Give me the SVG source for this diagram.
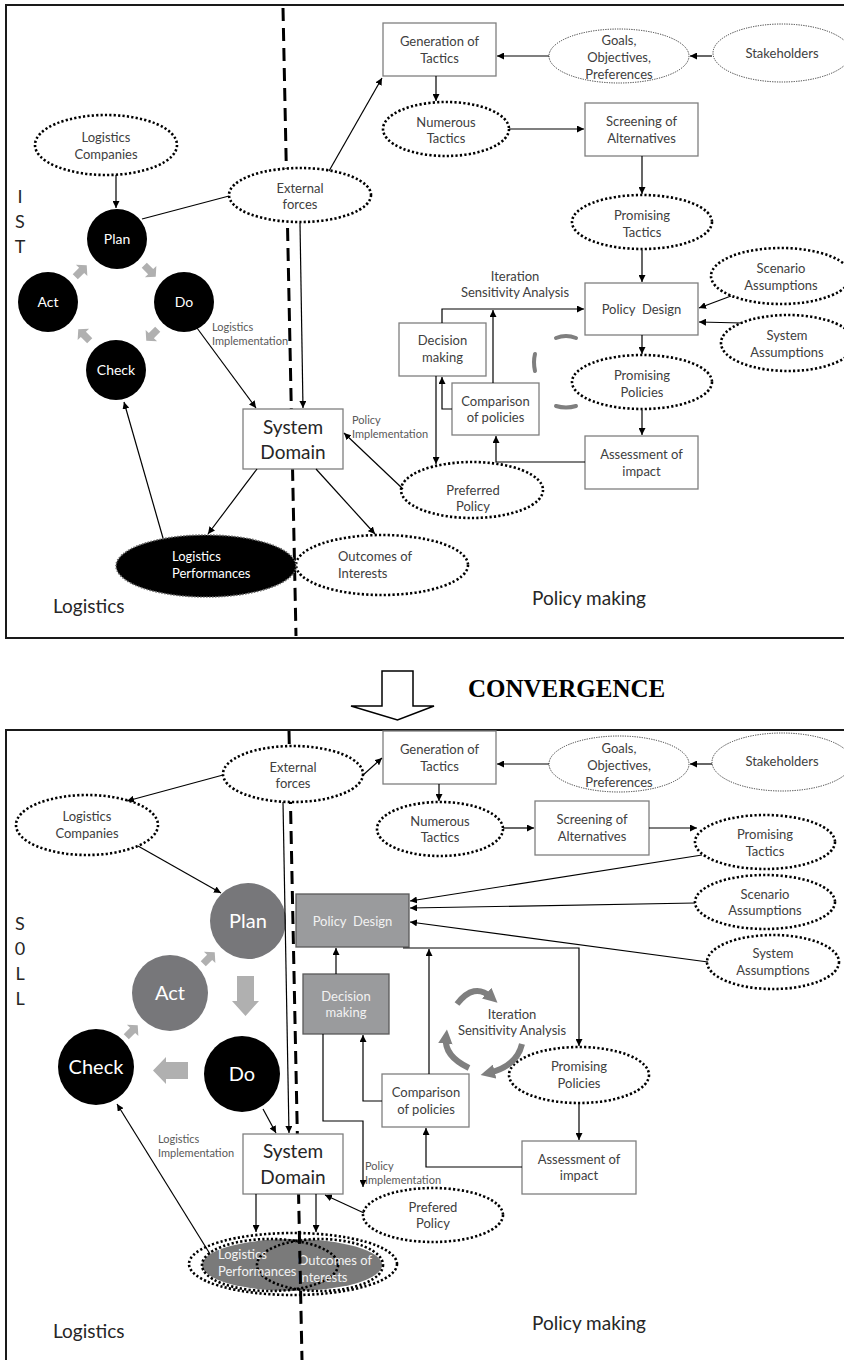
<svg xmlns="http://www.w3.org/2000/svg" width="844" height="1360" viewBox="0 0 844 1360">
<defs>
<style>
.t{font-family:Lato,"Liberation Sans",sans-serif;font-size:13px;fill:#404040;text-anchor:middle}
.s{font-family:Lato,"Liberation Sans",sans-serif;font-size:11px;fill:#595959}
.big{font-family:Lato,"Liberation Sans",sans-serif;font-size:19px;fill:#262626}
.w{fill:#fff}
.lt{fill:#f2f2f2}
.box{fill:#fff;stroke:#7f7f7f;stroke-width:1.3}
.gbox{fill:#9a9b9d;stroke:#595959;stroke-width:1.3}
.dot{fill:#fff;stroke:#000;stroke-width:2.6;stroke-dasharray:2.2 2.2}
.dotn{fill:none;stroke:#000;stroke-width:2.6;stroke-dasharray:2.2 2.2}
.tdot{fill:#fff;stroke:#333;stroke-width:1;stroke-dasharray:1.2 1.2}
.c{fill:none;stroke:#000;stroke-width:1.2;marker-end:url(#ah)}
.cn{fill:none;stroke:#000;stroke-width:1.2}
.frame{fill:none;stroke:#1a1a1a;stroke-width:2}
.div{fill:none;stroke:#000;stroke-width:3;stroke-dasharray:13 7}
.blk{fill:#b0b0b0}
.it{fill:none;stroke:#7f7f7f;stroke-width:6;marker-end:url(#gh)}
.itp{fill:none;stroke:#7f7f7f;stroke-width:4;stroke-linecap:round}
</style>
<marker id="ah" viewBox="0 0 10 10" refX="10" refY="5" markerWidth="7" markerHeight="7" markerUnits="userSpaceOnUse" orient="auto">
<path d="M0,0 L10,5 L0,10 z" fill="#000"/>
</marker>
<marker id="gh" viewBox="0 0 10 10" refX="4" refY="5" markerWidth="2.4" markerHeight="2.4" orient="auto">
<path d="M0,0 L10,5 L0,10 z" fill="#7f7f7f"/>
</marker>
<path id="sa" d="M-9,-4 L1,-4 L1,-9 L9,0 L1,9 L1,4 L-9,4 z"/>
</defs>
<rect width="844" height="1360" fill="#fff"/>

<!-- frames -->
<g id="frames">
<path class="frame" d="M850,5 L6,5 L6,638 L850,638"/>
<path class="frame" d="M850,730 L6,730 L6,1365"/>
</g>

<!-- bottom combined outcome ellipses (drawn under divider) -->
<g id="b-outcomes-combined">
<ellipse class="dotn" cx="293" cy="1264" rx="104" ry="31"/>
<ellipse cx="292" cy="1265" rx="90" ry="26" fill="#7a7a7a"/>
<ellipse class="dotn" cx="270" cy="1265" rx="68" ry="26"/>
<ellipse class="dotn" cx="320" cy="1265" rx="63" ry="26"/>
<text class="t lt" style="text-anchor:start" x="218" y="1259">Logistics</text>
<text class="t lt" style="text-anchor:start" x="218" y="1276">Performances</text>
<text class="t lt" style="text-anchor:start" x="298" y="1265">Outcomes of</text>
<text class="t lt" style="text-anchor:start" x="298" y="1282">Interests</text>
</g>

<!-- dividers -->
<g id="dividers">
<path class="div" d="M283,8 L296,636"/>
<path class="div" d="M289,731 L302,1360"/>
</g>

<!-- ===== TOP PANEL ===== -->
<g id="t-labels">
<text class="big" x="20" y="203" text-anchor="middle" style="font-size:18px">I</text>
<text class="big" x="20" y="228" text-anchor="middle" style="font-size:18px">S</text>
<text class="big" x="20" y="253" text-anchor="middle" style="font-size:18px">T</text>
<text class="big" x="53" y="613">Logistics</text>
<text class="big" x="589" y="605" text-anchor="middle">Policy making</text>
<text class="t" x="515" y="281">Iteration</text>
<text class="t" x="515" y="297">Sensitivity Analysis</text>
<text class="s" x="212" y="331">Logistics</text>
<text class="s" x="212" y="345">Implementation</text>
<text class="s" x="352" y="424">Policy</text>
<text class="s" x="352" y="438">Implementation</text>
</g>

<g id="t-outcomes">
<ellipse class="dot" cx="382" cy="565" rx="86" ry="30"/>
<text class="t" style="text-anchor:start" x="338" y="561">Outcomes of</text>
<text class="t" style="text-anchor:start" x="338" y="578">Interests</text>
</g>
<g id="t-logperf">
<ellipse cx="206" cy="566" rx="90" ry="31" fill="#000" stroke="#666" stroke-width="1.6" stroke-dasharray="1.5 1.5"/>
<text class="t w" style="text-anchor:start" x="172" y="561">Logistics</text>
<text class="t w" style="text-anchor:start" x="172" y="578">Performances</text>
</g>

<g id="t-generation">
<rect class="box" x="383" y="23" width="113" height="53"/>
<text class="t" x="439.5" y="46">Generation of</text>
<text class="t" x="439.5" y="63">Tactics</text>
</g>
<g id="t-goals">
<ellipse class="tdot" cx="619" cy="56" rx="70" ry="27"/>
<text class="t" x="619" y="45">Goals,</text>
<text class="t" x="619" y="62">Objectives,</text>
<text class="t" x="619" y="79">Preferences</text>
</g>
<g id="t-stakeholders">
<ellipse class="tdot" cx="782" cy="53" rx="69" ry="29"/>
<text class="t" x="782" y="58">Stakeholders</text>
</g>
<g id="t-numerous">
<ellipse class="dot" cx="446" cy="129" rx="63" ry="27"/>
<text class="t" x="446" y="127">Numerous</text>
<text class="t" x="446" y="143">Tactics</text>
</g>
<g id="t-screening">
<rect class="box" x="585" y="103" width="113" height="53"/>
<text class="t" x="641.5" y="126">Screening of</text>
<text class="t" x="641.5" y="143">Alternatives</text>
</g>
<g id="t-promtactics">
<ellipse class="dot" cx="642" cy="222" rx="70" ry="27"/>
<text class="t" x="642" y="220">Promising</text>
<text class="t" x="642" y="237">Tactics</text>
</g>
<g id="t-policydesign">
<rect class="box" x="585" y="283" width="113" height="52"/>
<text class="t" x="641.5" y="314" xml:space="preserve">Policy  Design</text>
</g>
<g id="t-scenario">
<ellipse class="dot" cx="781" cy="276" rx="70" ry="28"/>
<text class="t" x="781" y="273">Scenario</text>
<text class="t" x="781" y="290">Assumptions</text>
</g>
<g id="t-system">
<ellipse class="dot" cx="788" cy="343" rx="67" ry="28"/>
<text class="t" x="787" y="340">System</text>
<text class="t" x="787" y="357">Assumptions</text>
</g>
<g id="t-prompolicies">
<ellipse class="dot" cx="642" cy="382" rx="70" ry="27"/>
<text class="t" x="642" y="380">Promising</text>
<text class="t" x="642" y="397">Policies</text>
</g>
<g id="t-assessment">
<rect class="box" x="585" y="436" width="113" height="53"/>
<text class="t" x="641.5" y="459">Assessment of</text>
<text class="t" x="641.5" y="476">impact</text>
</g>
<g id="t-decision">
<rect class="box" x="399" y="323" width="87" height="53"/>
<text class="t" x="442.5" y="345">Decision</text>
<text class="t" x="442.5" y="362">making</text>
</g>
<g id="t-comparison">
<rect class="box" x="452" y="383" width="87" height="52"/>
<text class="t" x="495.5" y="406">Comparison</text>
<text class="t" x="495.5" y="422">of policies</text>
</g>
<g id="t-preferred">
<ellipse class="dot" cx="472" cy="490" rx="71" ry="28"/>
<text class="t" x="473" y="495">Preferred</text>
<text class="t" x="473" y="511">Policy</text>
</g>
<g id="t-iteration-arcs">
<path class="itp" d="M556,338 Q566,334 576,338"/>
<path class="itp" d="M535,354 Q533,362 535,371"/>
<path class="itp" d="M556,406 Q566,409 576,406"/>
</g>
<g id="t-logcomp">
<ellipse class="dot" cx="106" cy="145" rx="71" ry="30"/>
<text class="t" x="106" y="142">Logistics</text>
<text class="t" x="106" y="159">Companies</text>
</g>
<g id="t-external">
<ellipse class="dot" cx="300" cy="195" rx="71" ry="27"/>
<text class="t" x="300" y="193">External</text>
<text class="t" x="300" y="209">forces</text>
</g>
<g id="t-plan">
<circle cx="117" cy="239" r="30" fill="#000"/>
<text class="t w" x="117" y="244" style="font-size:14px">Plan</text>
</g>
<g id="t-act">
<circle cx="48" cy="302" r="30" fill="#000"/>
<text class="t w" x="48" y="307" style="font-size:14px">Act</text>
</g>
<g id="t-do">
<circle cx="184" cy="302" r="30" fill="#000"/>
<text class="t w" x="184" y="307" style="font-size:14px">Do</text>
</g>
<g id="t-check">
<circle cx="116" cy="370" r="30" fill="#000"/>
<text class="t w" x="116" y="375" style="font-size:14px">Check</text>
</g>
<g id="t-pdca-arrows">
<use href="#sa" class="blk" transform="translate(81,271) rotate(-45) scale(0.9)"/>
<use href="#sa" class="blk" transform="translate(150,271) rotate(45) scale(0.9)"/>
<use href="#sa" class="blk" transform="translate(152,335) rotate(135) scale(0.9)"/>
<use href="#sa" class="blk" transform="translate(84,335) rotate(-135) scale(0.9)"/>
</g>
<g id="t-sysdomain">
<rect class="box" x="243" y="409" width="100" height="60"/>
<text class="t" x="293" y="434" style="font-size:19px;fill:#262626">System</text>
<text class="t" x="293" y="459" style="font-size:19px;fill:#262626">Domain</text>
</g>

<g id="t-connectors">
<path class="c" d="M712,56 L690,56"/>
<path class="c" d="M549,56 L497,56"/>
<path class="c" d="M436,76 L436,101"/>
<path class="c" d="M509,129 L584,129"/>
<path class="c" d="M642,156 L642,194"/>
<path class="c" d="M642,250 L642,282"/>
<path class="c" d="M731,296 L699,308"/>
<path class="c" d="M742,323 L699,322"/>
<path class="c" d="M642,335 L642,354"/>
<path class="c" d="M642,410 L642,435"/>
<path class="c" d="M442,323 L442,309 L584,309"/>
<path class="c" d="M493,383 L493,310"/>
<path class="c" d="M452,409 L442,409 L442,377"/>
<path class="c" d="M436,376 L436,464"/>
<path class="c" d="M585,462 L496,462 L496,436"/>
<path class="c" d="M403,489 L344,433"/>
<path class="c" d="M329,171 L382,78"/>
<path class="cn" d="M142,219 L229,196"/>
<path class="c" d="M300,223 L303,408"/>
<path class="c" d="M116,175 L116,208"/>
<path class="c" d="M197,328 L256,408"/>
<path class="c" d="M257,469 L208,534"/>
<path class="c" d="M163,538 L124,402"/>
<path class="c" d="M316,469 L375,534"/>
</g>

<!-- ===== CONVERGENCE ===== -->
<g id="convergence">
<path d="M382,671 L413,671 L413,706 L434,706 L397.5,720 L351,706 L382,706 z" fill="#fff" stroke="#000" stroke-width="1.5" stroke-linejoin="miter"/>
<text x="468" y="697" style="font-family:'Liberation Serif',serif;font-weight:bold;font-size:25px;fill:#000">CONVERGENCE</text>
</g>

<!-- ===== BOTTOM PANEL ===== -->
<g id="b-labels">
<text class="big" x="20" y="930" text-anchor="middle" style="font-size:18px">S</text>
<text class="big" x="20" y="955" text-anchor="middle" style="font-size:18px">0</text>
<text class="big" x="20" y="980" text-anchor="middle" style="font-size:18px">L</text>
<text class="big" x="20" y="1005" text-anchor="middle" style="font-size:18px">L</text>
<text class="big" x="53" y="1338">Logistics</text>
<text class="big" x="589" y="1330" text-anchor="middle">Policy making</text>
<text class="t" x="512" y="1019">Iteration</text>
<text class="t" x="512" y="1035">Sensitivity Analysis</text>
<text class="s" x="158" y="1143">Logistics</text>
<text class="s" x="158" y="1157">Implementation</text>
<text class="s" x="365" y="1170">Policy</text>
<text class="s" x="365" y="1184">Implementation</text>
</g>

<g id="b-generation">
<rect class="box" x="383" y="731" width="113" height="53"/>
<text class="t" x="439.5" y="754">Generation of</text>
<text class="t" x="439.5" y="771">Tactics</text>
</g>
<g id="b-goals">
<ellipse class="tdot" cx="619" cy="764" rx="70" ry="28"/>
<text class="t" x="619" y="753">Goals,</text>
<text class="t" x="619" y="770">Objectives,</text>
<text class="t" x="619" y="787">Preferences</text>
</g>
<g id="b-stakeholders">
<ellipse class="tdot" cx="782" cy="762" rx="70" ry="29"/>
<text class="t" x="782" y="766">Stakeholders</text>
</g>
<g id="b-numerous">
<ellipse class="dot" cx="440" cy="829" rx="63" ry="27"/>
<text class="t" x="440" y="826">Numerous</text>
<text class="t" x="440" y="842">Tactics</text>
</g>
<g id="b-screening">
<rect class="box" x="535" y="801" width="114" height="54"/>
<text class="t" x="592" y="824">Screening of</text>
<text class="t" x="592" y="841">Alternatives</text>
</g>
<g id="b-promtactics">
<ellipse class="dot" cx="765" cy="842" rx="70" ry="27"/>
<text class="t" x="765" y="839">Promising</text>
<text class="t" x="765" y="856">Tactics</text>
</g>
<g id="b-scenario">
<ellipse class="dot" cx="765" cy="902" rx="70" ry="27"/>
<text class="t" x="765" y="899">Scenario</text>
<text class="t" x="765" y="915">Assumptions</text>
</g>
<g id="b-system">
<ellipse class="dot" cx="773" cy="962" rx="66" ry="27"/>
<text class="t" x="773" y="958">System</text>
<text class="t" x="773" y="975">Assumptions</text>
</g>
<g id="b-policydesign">
<rect class="gbox" x="296" y="894" width="113" height="53"/>
<text class="t lt" x="352.5" y="926" xml:space="preserve">Policy  Design</text>
</g>
<g id="b-decision">
<rect class="gbox" x="303" y="974" width="86" height="60"/>
<text class="t lt" x="346" y="1001">Decision</text>
<text class="t lt" x="346" y="1017">making</text>
</g>
<g id="b-comparison">
<rect class="box" x="382" y="1074" width="87" height="53"/>
<text class="t" x="426" y="1097">Comparison</text>
<text class="t" x="426" y="1114">of policies</text>
</g>
<g id="b-prompolicies">
<ellipse class="dot" cx="579" cy="1075" rx="70" ry="28"/>
<text class="t" x="579" y="1071">Promising</text>
<text class="t" x="579" y="1088">Policies</text>
</g>
<g id="b-assessment">
<rect class="box" x="522" y="1141" width="114" height="53"/>
<text class="t" x="579" y="1164">Assessment of</text>
<text class="t" x="579" y="1180">impact</text>
</g>
<g id="b-prefered">
<ellipse class="dot" cx="433" cy="1215" rx="70" ry="27"/>
<text class="t" x="433" y="1212">Prefered</text>
<text class="t" x="433" y="1228">Policy</text>
</g>
<g id="b-iteration-arrows">
<path class="it" d="M457,1004 Q474,982 491,997"/>
<path class="it" d="M469,1068 Q444,1056 446,1038"/>
<path class="it" d="M522,1044 Q517,1066 489,1073"/>
</g>
<g id="b-logcomp">
<ellipse class="dot" cx="87" cy="825" rx="71" ry="30"/>
<text class="t" x="87" y="821">Logistics</text>
<text class="t" x="87" y="838">Companies</text>
</g>
<g id="b-external">
<ellipse class="dot" cx="293" cy="774" rx="70" ry="28"/>
<text class="t" x="293" y="772">External</text>
<text class="t" x="293" y="788">forces</text>
</g>
<g id="b-plan">
<circle cx="248" cy="921" r="38" fill="#77777a"/>
<text class="t w" x="248" y="928" style="font-size:20px">Plan</text>
</g>
<g id="b-act">
<circle cx="170" cy="993" r="38" fill="#77777a"/>
<text class="t w" x="170" y="1000" style="font-size:20px">Act</text>
</g>
<g id="b-check">
<circle cx="96" cy="1067" r="38" fill="#000"/>
<text class="t w" x="96" y="1074" style="font-size:20px">Check</text>
</g>
<g id="b-do">
<circle cx="242" cy="1074" r="38" fill="#000"/>
<text class="t w" x="242" y="1081" style="font-size:20px">Do</text>
</g>
<g id="b-pdca-arrows">
<use href="#sa" class="blk" transform="translate(209,958) rotate(-45) scale(0.9)"/>
<use href="#sa" class="blk" transform="translate(132,1031) rotate(-45) scale(0.9)"/>
<path class="blk" d="M237,976 L254,976 L254,1001 L259,1001 L245.5,1016 L232,1001 L237,1001 z"/>
<path class="blk" d="M188,1062 L188,1079 L166,1079 L166,1084 L153,1070.5 L166,1057 L166,1062 z"/>
</g>
<g id="b-sysdomain">
<rect class="box" x="243" y="1134" width="100" height="60"/>
<text class="t" x="293" y="1158" style="font-size:19px;fill:#262626">System</text>
<text class="t" x="293" y="1184" style="font-size:19px;fill:#262626">Domain</text>
</g>

<g id="b-connectors">
<path class="c" d="M712,764 L690,764"/>
<path class="c" d="M549,764 L497,764"/>
<path class="c" d="M439,784 L439,801"/>
<path class="c" d="M503,828 L534,828"/>
<path class="c" d="M649,828 L697,828"/>
<path class="c" d="M702,855 L410,901"/>
<path class="c" d="M695,903 L410,908"/>
<path class="c" d="M708,962 L410,922"/>
<path class="c" d="M403,948 L579,948 L579,1046"/>
<path class="c" d="M579,1103 L579,1140"/>
<path class="c" d="M522,1167 L426,1167 L426,1128"/>
<path class="c" d="M429,1074 L429,949"/>
<path class="c" d="M382,1101 L363,1101 L363,1035"/>
<path class="c" d="M336,974 L336,948"/>
<path class="c" d="M323,1034 L323,1121 L363,1121 L363,1187"/>
<path class="c" d="M364,1213 L325,1195"/>
<path class="c" d="M223,775 L127,801"/>
<path class="c" d="M362,776 L382,758"/>
<path class="c" d="M283,802 L289,1133"/>
<path class="c" d="M138,846 L221,893"/>
<path class="c" d="M263,1109 L276,1133"/>
<path class="c" d="M210,1254 L117,1104"/>
<path class="c" d="M256,1194 L256,1232"/>
<path class="c" d="M316,1194 L316,1232"/>
</g>
</svg>
